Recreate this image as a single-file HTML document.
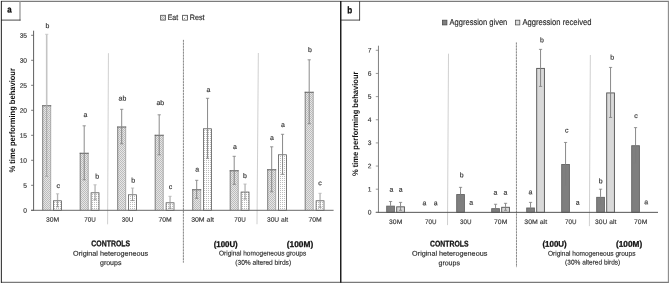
<!DOCTYPE html>
<html><head><meta charset="utf-8"><title>Figure</title>
<style>html,body{margin:0;padding:0;background:#fff;}svg{display:block;will-change:transform;}</style>
</head><body>
<svg width="669" height="284" viewBox="0 0 669 284" font-family="Liberation Sans, sans-serif" text-rendering="geometricPrecision">
<defs>
<pattern id="pe" width="2" height="2" patternUnits="userSpaceOnUse"><rect width="2" height="2" fill="#e6e6e6"/><rect width="1" height="1" fill="#bcbcbc"/><rect x="1" y="1" width="1" height="1" fill="#bcbcbc"/></pattern>
<pattern id="pr" width="2" height="2" patternUnits="userSpaceOnUse"><rect width="2" height="2" fill="#fefefe"/><rect x="0" y="0" width="1" height="1" fill="#bdbdbd"/></pattern>
</defs>
<line x1="1.00" y1="1.30" x2="669.00" y2="1.30" stroke="#5c5c5c" stroke-width="1.0" />
<line x1="1.00" y1="282.30" x2="669.00" y2="282.30" stroke="#585858" stroke-width="1.0" />
<line x1="1.35" y1="1.00" x2="1.35" y2="282.80" stroke="#151515" stroke-width="0.95" />
<line x1="668.40" y1="1.00" x2="668.40" y2="282.80" stroke="#8a8a8a" stroke-width="1.1" />
<line x1="340.75" y1="1.00" x2="340.75" y2="282.80" stroke="#1a1a1a" stroke-width="1.45" />
<line x1="20.00" y1="1.30" x2="20.00" y2="20.40" stroke="#999" stroke-width="1.3" />
<line x1="1.00" y1="20.10" x2="20.60" y2="20.10" stroke="#1e1e1e" stroke-width="0.8" />
<line x1="359.60" y1="1.30" x2="359.60" y2="20.40" stroke="#222" stroke-width="0.8" />
<line x1="340.00" y1="20.10" x2="360.00" y2="20.10" stroke="#222" stroke-width="0.8" />
<text x="9.50" y="12.50" font-size="9.1" text-anchor="middle" font-weight="bold" fill="#111" stroke="#111" stroke-width="0.28" textLength="4.40" lengthAdjust="spacingAndGlyphs" transform="rotate(0.04 9.50 12.50)" >a</text>
<text x="349.80" y="13.20" font-size="9.6" text-anchor="middle" font-weight="bold" fill="#111" stroke="#111" stroke-width="0.28" textLength="5.00" lengthAdjust="spacingAndGlyphs" transform="rotate(0.04 349.80 13.20)" >b</text>
<line x1="108.45" y1="53.20" x2="107.60" y2="224.30" stroke="#c8c8c8" stroke-width="0.85" />
<line x1="183.45" y1="39.90" x2="183.40" y2="262.60" stroke="#c4c4c4" stroke-width="0.8" />
<line x1="183.45" y1="39.90" x2="183.40" y2="262.60" stroke="#787878" stroke-width="0.8" stroke-dasharray="1.9 1.05"/>
<line x1="258.35" y1="53.00" x2="257.00" y2="224.20" stroke="#c8c8c8" stroke-width="0.85" />
<rect x="42.40" y="105.60" width="8.60" height="104.70" fill="url(#pe)" stroke="none" stroke-width="1" />
<line x1="50.70" y1="105.30" x2="50.70" y2="210.30" stroke="#a6a6a6" stroke-width="0.9" />
<line x1="42.70" y1="105.30" x2="42.70" y2="210.30" stroke="#787878" stroke-width="0.9" />
<line x1="42.20" y1="105.75" x2="51.20" y2="105.75" stroke="#565656" stroke-width="0.9" />
<line x1="46.70" y1="34.30" x2="46.70" y2="105.30" stroke="#c4c4c4" stroke-width="1.6" />
<line x1="46.70" y1="105.30" x2="46.70" y2="176.30" stroke="#a4a4a4" stroke-width="1.0" />
<line x1="45.10" y1="34.30" x2="48.30" y2="34.30" stroke="#c4c4c4" stroke-width="0.8" />
<line x1="45.10" y1="176.30" x2="48.30" y2="176.30" stroke="#a4a4a4" stroke-width="0.8" />
<rect x="53.60" y="200.80" width="7.90" height="9.50" fill="url(#pr)" stroke="#505050" stroke-width="0.75" />
<line x1="57.55" y1="193.80" x2="57.55" y2="200.30" stroke="#b4b4b4" stroke-width="1.3" />
<line x1="57.55" y1="200.30" x2="57.55" y2="206.80" stroke="#8a8a8a" stroke-width="0.9" />
<line x1="55.95" y1="193.80" x2="59.15" y2="193.80" stroke="#b4b4b4" stroke-width="0.8" />
<line x1="55.95" y1="206.80" x2="59.15" y2="206.80" stroke="#8a8a8a" stroke-width="0.8" />
<rect x="79.90" y="153.10" width="8.60" height="57.20" fill="url(#pe)" stroke="none" stroke-width="1" />
<line x1="88.20" y1="152.80" x2="88.20" y2="210.30" stroke="#a6a6a6" stroke-width="0.9" />
<line x1="80.20" y1="152.80" x2="80.20" y2="210.30" stroke="#787878" stroke-width="0.9" />
<line x1="79.70" y1="153.25" x2="88.70" y2="153.25" stroke="#565656" stroke-width="0.9" />
<line x1="84.20" y1="125.80" x2="84.20" y2="152.80" stroke="#7d7d7d" stroke-width="0.9" />
<line x1="84.20" y1="152.80" x2="84.20" y2="179.80" stroke="#7d7d7d" stroke-width="0.9" />
<line x1="82.60" y1="125.80" x2="85.80" y2="125.80" stroke="#7d7d7d" stroke-width="0.8" />
<line x1="82.60" y1="179.80" x2="85.80" y2="179.80" stroke="#7d7d7d" stroke-width="0.8" />
<rect x="91.10" y="192.80" width="7.90" height="17.50" fill="url(#pr)" stroke="#505050" stroke-width="0.75" />
<line x1="95.05" y1="184.80" x2="95.05" y2="192.30" stroke="#b4b4b4" stroke-width="1.3" />
<line x1="95.05" y1="192.30" x2="95.05" y2="199.80" stroke="#8a8a8a" stroke-width="0.9" />
<line x1="93.45" y1="184.80" x2="96.65" y2="184.80" stroke="#b4b4b4" stroke-width="0.8" />
<line x1="93.45" y1="199.80" x2="96.65" y2="199.80" stroke="#8a8a8a" stroke-width="0.8" />
<rect x="117.40" y="126.85" width="8.60" height="83.45" fill="url(#pe)" stroke="none" stroke-width="1" />
<line x1="125.70" y1="126.55" x2="125.70" y2="210.30" stroke="#a6a6a6" stroke-width="0.9" />
<line x1="117.70" y1="126.55" x2="117.70" y2="210.30" stroke="#787878" stroke-width="0.9" />
<line x1="117.20" y1="127.00" x2="126.20" y2="127.00" stroke="#565656" stroke-width="0.9" />
<line x1="121.70" y1="109.30" x2="121.70" y2="126.55" stroke="#7d7d7d" stroke-width="0.9" />
<line x1="121.70" y1="126.55" x2="121.70" y2="143.80" stroke="#7d7d7d" stroke-width="0.9" />
<line x1="120.10" y1="109.30" x2="123.30" y2="109.30" stroke="#7d7d7d" stroke-width="0.8" />
<line x1="120.10" y1="143.80" x2="123.30" y2="143.80" stroke="#7d7d7d" stroke-width="0.8" />
<rect x="128.60" y="194.80" width="7.90" height="15.50" fill="url(#pr)" stroke="#505050" stroke-width="0.75" />
<line x1="132.55" y1="188.05" x2="132.55" y2="194.30" stroke="#b4b4b4" stroke-width="1.3" />
<line x1="132.55" y1="194.30" x2="132.55" y2="200.55" stroke="#8a8a8a" stroke-width="0.9" />
<line x1="130.95" y1="188.05" x2="134.15" y2="188.05" stroke="#b4b4b4" stroke-width="0.8" />
<line x1="130.95" y1="200.55" x2="134.15" y2="200.55" stroke="#8a8a8a" stroke-width="0.8" />
<rect x="154.90" y="135.10" width="8.60" height="75.20" fill="url(#pe)" stroke="none" stroke-width="1" />
<line x1="163.20" y1="134.80" x2="163.20" y2="210.30" stroke="#a6a6a6" stroke-width="0.9" />
<line x1="155.20" y1="134.80" x2="155.20" y2="210.30" stroke="#787878" stroke-width="0.9" />
<line x1="154.70" y1="135.25" x2="163.70" y2="135.25" stroke="#565656" stroke-width="0.9" />
<line x1="159.20" y1="114.80" x2="159.20" y2="134.80" stroke="#7d7d7d" stroke-width="0.9" />
<line x1="159.20" y1="134.80" x2="159.20" y2="154.80" stroke="#7d7d7d" stroke-width="0.9" />
<line x1="157.60" y1="114.80" x2="160.80" y2="114.80" stroke="#7d7d7d" stroke-width="0.8" />
<line x1="157.60" y1="154.80" x2="160.80" y2="154.80" stroke="#7d7d7d" stroke-width="0.8" />
<rect x="166.10" y="202.80" width="7.90" height="7.50" fill="url(#pr)" stroke="#505050" stroke-width="0.75" />
<line x1="170.05" y1="196.30" x2="170.05" y2="202.30" stroke="#b4b4b4" stroke-width="1.3" />
<line x1="170.05" y1="202.30" x2="170.05" y2="208.30" stroke="#8a8a8a" stroke-width="0.9" />
<line x1="168.45" y1="196.30" x2="171.65" y2="196.30" stroke="#b4b4b4" stroke-width="0.8" />
<line x1="168.45" y1="208.30" x2="171.65" y2="208.30" stroke="#8a8a8a" stroke-width="0.8" />
<rect x="192.40" y="189.60" width="8.60" height="20.70" fill="url(#pe)" stroke="none" stroke-width="1" />
<line x1="200.70" y1="189.30" x2="200.70" y2="210.30" stroke="#a6a6a6" stroke-width="0.9" />
<line x1="192.70" y1="189.30" x2="192.70" y2="210.30" stroke="#787878" stroke-width="0.9" />
<line x1="192.20" y1="189.75" x2="201.20" y2="189.75" stroke="#565656" stroke-width="0.9" />
<line x1="196.70" y1="180.30" x2="196.70" y2="189.30" stroke="#7d7d7d" stroke-width="0.9" />
<line x1="196.70" y1="189.30" x2="196.70" y2="198.30" stroke="#7d7d7d" stroke-width="0.9" />
<line x1="195.10" y1="180.30" x2="198.30" y2="180.30" stroke="#7d7d7d" stroke-width="0.8" />
<line x1="195.10" y1="198.30" x2="198.30" y2="198.30" stroke="#7d7d7d" stroke-width="0.8" />
<rect x="203.60" y="128.80" width="7.90" height="81.50" fill="url(#pr)" stroke="#505050" stroke-width="0.75" />
<line x1="207.55" y1="98.30" x2="207.55" y2="128.30" stroke="#7d7d7d" stroke-width="0.9" />
<line x1="207.55" y1="128.30" x2="207.55" y2="158.30" stroke="#7d7d7d" stroke-width="0.9" />
<line x1="205.95" y1="98.30" x2="209.15" y2="98.30" stroke="#7d7d7d" stroke-width="0.8" />
<line x1="205.95" y1="158.30" x2="209.15" y2="158.30" stroke="#7d7d7d" stroke-width="0.8" />
<rect x="229.90" y="170.60" width="8.60" height="39.70" fill="url(#pe)" stroke="none" stroke-width="1" />
<line x1="238.20" y1="170.30" x2="238.20" y2="210.30" stroke="#a6a6a6" stroke-width="0.9" />
<line x1="230.20" y1="170.30" x2="230.20" y2="210.30" stroke="#787878" stroke-width="0.9" />
<line x1="229.70" y1="170.75" x2="238.70" y2="170.75" stroke="#565656" stroke-width="0.9" />
<line x1="234.20" y1="156.30" x2="234.20" y2="170.30" stroke="#7d7d7d" stroke-width="0.9" />
<line x1="234.20" y1="170.30" x2="234.20" y2="184.30" stroke="#7d7d7d" stroke-width="0.9" />
<line x1="232.60" y1="156.30" x2="235.80" y2="156.30" stroke="#7d7d7d" stroke-width="0.8" />
<line x1="232.60" y1="184.30" x2="235.80" y2="184.30" stroke="#7d7d7d" stroke-width="0.8" />
<rect x="241.10" y="192.05" width="7.90" height="18.25" fill="url(#pr)" stroke="#505050" stroke-width="0.75" />
<line x1="245.05" y1="184.05" x2="245.05" y2="191.55" stroke="#b4b4b4" stroke-width="1.3" />
<line x1="245.05" y1="191.55" x2="245.05" y2="199.05" stroke="#8a8a8a" stroke-width="0.9" />
<line x1="243.45" y1="184.05" x2="246.65" y2="184.05" stroke="#b4b4b4" stroke-width="0.8" />
<line x1="243.45" y1="199.05" x2="246.65" y2="199.05" stroke="#8a8a8a" stroke-width="0.8" />
<rect x="267.40" y="169.60" width="8.60" height="40.70" fill="url(#pe)" stroke="none" stroke-width="1" />
<line x1="275.70" y1="169.30" x2="275.70" y2="210.30" stroke="#a6a6a6" stroke-width="0.9" />
<line x1="267.70" y1="169.30" x2="267.70" y2="210.30" stroke="#787878" stroke-width="0.9" />
<line x1="267.20" y1="169.75" x2="276.20" y2="169.75" stroke="#565656" stroke-width="0.9" />
<line x1="271.70" y1="146.80" x2="271.70" y2="169.30" stroke="#7d7d7d" stroke-width="0.9" />
<line x1="271.70" y1="169.30" x2="271.70" y2="191.80" stroke="#7d7d7d" stroke-width="0.9" />
<line x1="270.10" y1="146.80" x2="273.30" y2="146.80" stroke="#7d7d7d" stroke-width="0.8" />
<line x1="270.10" y1="191.80" x2="273.30" y2="191.80" stroke="#7d7d7d" stroke-width="0.8" />
<rect x="278.60" y="154.80" width="7.90" height="55.50" fill="url(#pr)" stroke="#505050" stroke-width="0.75" />
<line x1="282.55" y1="134.30" x2="282.55" y2="154.30" stroke="#7d7d7d" stroke-width="0.9" />
<line x1="282.55" y1="154.30" x2="282.55" y2="174.30" stroke="#7d7d7d" stroke-width="0.9" />
<line x1="280.95" y1="134.30" x2="284.15" y2="134.30" stroke="#7d7d7d" stroke-width="0.8" />
<line x1="280.95" y1="174.30" x2="284.15" y2="174.30" stroke="#7d7d7d" stroke-width="0.8" />
<rect x="304.90" y="92.10" width="8.60" height="118.20" fill="url(#pe)" stroke="none" stroke-width="1" />
<line x1="313.20" y1="91.80" x2="313.20" y2="210.30" stroke="#a6a6a6" stroke-width="0.9" />
<line x1="305.20" y1="91.80" x2="305.20" y2="210.30" stroke="#787878" stroke-width="0.9" />
<line x1="304.70" y1="92.25" x2="313.70" y2="92.25" stroke="#565656" stroke-width="0.9" />
<line x1="309.20" y1="59.80" x2="309.20" y2="91.80" stroke="#7d7d7d" stroke-width="0.9" />
<line x1="309.20" y1="91.80" x2="309.20" y2="123.80" stroke="#7d7d7d" stroke-width="0.9" />
<line x1="307.60" y1="59.80" x2="310.80" y2="59.80" stroke="#7d7d7d" stroke-width="0.8" />
<line x1="307.60" y1="123.80" x2="310.80" y2="123.80" stroke="#7d7d7d" stroke-width="0.8" />
<rect x="316.10" y="200.80" width="7.90" height="9.50" fill="url(#pr)" stroke="#505050" stroke-width="0.75" />
<line x1="320.05" y1="193.30" x2="320.05" y2="200.30" stroke="#b4b4b4" stroke-width="1.3" />
<line x1="320.05" y1="200.30" x2="320.05" y2="207.30" stroke="#8a8a8a" stroke-width="0.9" />
<line x1="318.45" y1="193.30" x2="321.65" y2="193.30" stroke="#b4b4b4" stroke-width="0.8" />
<line x1="318.45" y1="207.30" x2="321.65" y2="207.30" stroke="#8a8a8a" stroke-width="0.8" />
<line x1="33.60" y1="30.70" x2="33.60" y2="210.80" stroke="#5e5e5e" stroke-width="1.0" />
<line x1="31.10" y1="210.30" x2="333.60" y2="210.30" stroke="#6a6a6a" stroke-width="1.0" />
<line x1="31.10" y1="210.30" x2="33.60" y2="210.30" stroke="#5e5e5e" stroke-width="0.8" />
<text x="27.10" y="212.75" font-size="6.6" text-anchor="end" font-weight="normal" fill="#363636" stroke="#363636" stroke-width="0.15" textLength="3.72" lengthAdjust="spacingAndGlyphs" transform="rotate(0.04 27.10 212.75)" >0</text>
<line x1="31.10" y1="185.30" x2="33.60" y2="185.30" stroke="#5e5e5e" stroke-width="0.8" />
<text x="27.10" y="187.75" font-size="6.6" text-anchor="end" font-weight="normal" fill="#363636" stroke="#363636" stroke-width="0.15" textLength="3.72" lengthAdjust="spacingAndGlyphs" transform="rotate(0.04 27.10 187.75)" >5</text>
<line x1="31.10" y1="160.30" x2="33.60" y2="160.30" stroke="#5e5e5e" stroke-width="0.8" />
<text x="27.10" y="162.75" font-size="6.6" text-anchor="end" font-weight="normal" fill="#363636" stroke="#363636" stroke-width="0.15" textLength="7.44" lengthAdjust="spacingAndGlyphs" transform="rotate(0.04 27.10 162.75)" >10</text>
<line x1="31.10" y1="135.30" x2="33.60" y2="135.30" stroke="#5e5e5e" stroke-width="0.8" />
<text x="27.10" y="137.75" font-size="6.6" text-anchor="end" font-weight="normal" fill="#363636" stroke="#363636" stroke-width="0.15" textLength="7.44" lengthAdjust="spacingAndGlyphs" transform="rotate(0.04 27.10 137.75)" >15</text>
<line x1="31.10" y1="110.30" x2="33.60" y2="110.30" stroke="#5e5e5e" stroke-width="0.8" />
<text x="27.10" y="112.75" font-size="6.6" text-anchor="end" font-weight="normal" fill="#363636" stroke="#363636" stroke-width="0.15" textLength="7.44" lengthAdjust="spacingAndGlyphs" transform="rotate(0.04 27.10 112.75)" >20</text>
<line x1="31.10" y1="85.30" x2="33.60" y2="85.30" stroke="#5e5e5e" stroke-width="0.8" />
<text x="27.10" y="87.75" font-size="6.6" text-anchor="end" font-weight="normal" fill="#363636" stroke="#363636" stroke-width="0.15" textLength="7.44" lengthAdjust="spacingAndGlyphs" transform="rotate(0.04 27.10 87.75)" >25</text>
<line x1="31.10" y1="60.30" x2="33.60" y2="60.30" stroke="#5e5e5e" stroke-width="0.8" />
<text x="27.10" y="62.75" font-size="6.6" text-anchor="end" font-weight="normal" fill="#363636" stroke="#363636" stroke-width="0.15" textLength="7.44" lengthAdjust="spacingAndGlyphs" transform="rotate(0.04 27.10 62.75)" >30</text>
<line x1="31.10" y1="35.30" x2="33.60" y2="35.30" stroke="#5e5e5e" stroke-width="0.8" />
<text x="27.10" y="37.75" font-size="6.6" text-anchor="end" font-weight="normal" fill="#363636" stroke="#363636" stroke-width="0.15" textLength="7.44" lengthAdjust="spacingAndGlyphs" transform="rotate(0.04 27.10 37.75)" >35</text>
<text x="52.55" y="221.70" font-size="6.6" text-anchor="middle" font-weight="normal" fill="#363636" stroke="#363636" stroke-width="0.15" textLength="13.20" lengthAdjust="spacingAndGlyphs" transform="rotate(0.04 52.55 221.70)" >30M</text>
<text x="90.05" y="221.70" font-size="6.6" text-anchor="middle" font-weight="normal" fill="#363636" stroke="#363636" stroke-width="0.15" textLength="11.50" lengthAdjust="spacingAndGlyphs" transform="rotate(0.04 90.05 221.70)" >70U</text>
<text x="127.55" y="221.70" font-size="6.6" text-anchor="middle" font-weight="normal" fill="#363636" stroke="#363636" stroke-width="0.15" textLength="11.50" lengthAdjust="spacingAndGlyphs" transform="rotate(0.04 127.55 221.70)" >30U</text>
<text x="165.05" y="221.70" font-size="6.6" text-anchor="middle" font-weight="normal" fill="#363636" stroke="#363636" stroke-width="0.15" textLength="13.20" lengthAdjust="spacingAndGlyphs" transform="rotate(0.04 165.05 221.70)" >70M</text>
<text x="202.55" y="221.70" font-size="6.6" text-anchor="middle" font-weight="normal" fill="#363636" stroke="#363636" stroke-width="0.15" textLength="22.80" lengthAdjust="spacingAndGlyphs" transform="rotate(0.04 202.55 221.70)" >30M alt</text>
<text x="240.05" y="221.70" font-size="6.6" text-anchor="middle" font-weight="normal" fill="#363636" stroke="#363636" stroke-width="0.15" textLength="11.50" lengthAdjust="spacingAndGlyphs" transform="rotate(0.04 240.05 221.70)" >70U</text>
<text x="277.55" y="221.70" font-size="6.6" text-anchor="middle" font-weight="normal" fill="#363636" stroke="#363636" stroke-width="0.15" textLength="21.20" lengthAdjust="spacingAndGlyphs" transform="rotate(0.04 277.55 221.70)" >30U alt</text>
<text x="315.05" y="221.70" font-size="6.6" text-anchor="middle" font-weight="normal" fill="#363636" stroke="#363636" stroke-width="0.15" textLength="13.20" lengthAdjust="spacingAndGlyphs" transform="rotate(0.04 315.05 221.70)" >70M</text>
<text transform="translate(14.90,120.30) rotate(-90)" font-size="8.1" font-weight="bold" text-anchor="middle" fill="#111" textLength="104.4" lengthAdjust="spacingAndGlyphs">% time performing behaviour</text>
<text x="47.30" y="28.10" font-size="6.9" text-anchor="middle" font-weight="normal" fill="#2c2c2c" stroke="#2c2c2c" stroke-width="0.15" transform="rotate(0.04 47.30 28.10)" >b</text>
<text x="58.30" y="188.10" font-size="6.9" text-anchor="middle" font-weight="normal" fill="#2c2c2c" stroke="#2c2c2c" stroke-width="0.15" transform="rotate(0.04 58.30 188.10)" >c</text>
<text x="85.40" y="117.10" font-size="6.9" text-anchor="middle" font-weight="normal" fill="#2c2c2c" stroke="#2c2c2c" stroke-width="0.15" transform="rotate(0.04 85.40 117.10)" >a</text>
<text x="97.20" y="178.60" font-size="6.9" text-anchor="middle" font-weight="normal" fill="#2c2c2c" stroke="#2c2c2c" stroke-width="0.15" transform="rotate(0.04 97.20 178.60)" >b</text>
<text x="122.40" y="100.60" font-size="6.9" text-anchor="middle" font-weight="normal" fill="#2c2c2c" stroke="#2c2c2c" stroke-width="0.15" transform="rotate(0.04 122.40 100.60)" >ab</text>
<text x="133.20" y="182.40" font-size="6.9" text-anchor="middle" font-weight="normal" fill="#2c2c2c" stroke="#2c2c2c" stroke-width="0.15" transform="rotate(0.04 133.20 182.40)" >b</text>
<text x="160.30" y="105.10" font-size="6.9" text-anchor="middle" font-weight="normal" fill="#2c2c2c" stroke="#2c2c2c" stroke-width="0.15" transform="rotate(0.04 160.30 105.10)" >ab</text>
<text x="170.50" y="189.00" font-size="6.9" text-anchor="middle" font-weight="normal" fill="#2c2c2c" stroke="#2c2c2c" stroke-width="0.15" transform="rotate(0.04 170.50 189.00)" >c</text>
<text x="197.10" y="171.60" font-size="6.9" text-anchor="middle" font-weight="normal" fill="#2c2c2c" stroke="#2c2c2c" stroke-width="0.15" transform="rotate(0.04 197.10 171.60)" >a</text>
<text x="208.50" y="91.90" font-size="6.9" text-anchor="middle" font-weight="normal" fill="#2c2c2c" stroke="#2c2c2c" stroke-width="0.15" transform="rotate(0.04 208.50 91.90)" >a</text>
<text x="234.80" y="149.00" font-size="6.9" text-anchor="middle" font-weight="normal" fill="#2c2c2c" stroke="#2c2c2c" stroke-width="0.15" transform="rotate(0.04 234.80 149.00)" >a</text>
<text x="244.90" y="177.90" font-size="6.9" text-anchor="middle" font-weight="normal" fill="#2c2c2c" stroke="#2c2c2c" stroke-width="0.15" transform="rotate(0.04 244.90 177.90)" >b</text>
<text x="271.80" y="140.00" font-size="6.9" text-anchor="middle" font-weight="normal" fill="#2c2c2c" stroke="#2c2c2c" stroke-width="0.15" transform="rotate(0.04 271.80 140.00)" >a</text>
<text x="283.00" y="127.00" font-size="6.9" text-anchor="middle" font-weight="normal" fill="#2c2c2c" stroke="#2c2c2c" stroke-width="0.15" transform="rotate(0.04 283.00 127.00)" >a</text>
<text x="310.00" y="52.00" font-size="6.9" text-anchor="middle" font-weight="normal" fill="#2c2c2c" stroke="#2c2c2c" stroke-width="0.15" transform="rotate(0.04 310.00 52.00)" >b</text>
<text x="320.00" y="185.20" font-size="6.9" text-anchor="middle" font-weight="normal" fill="#2c2c2c" stroke="#2c2c2c" stroke-width="0.15" transform="rotate(0.04 320.00 185.20)" >c</text>
<rect x="160.60" y="15.30" width="4.80" height="4.80" fill="url(#pe)" stroke="#555" stroke-width="0.8" />
<text x="167.70" y="20.00" font-size="7.9" text-anchor="start" font-weight="normal" fill="#262626" stroke="#262626" stroke-width="0.15" textLength="10.40" lengthAdjust="spacingAndGlyphs" transform="rotate(0.04 167.70 20.00)" >Eat</text>
<rect x="182.60" y="15.30" width="4.80" height="4.80" fill="#fff" stroke="#444" stroke-width="0.8" />
<rect x="184.00" y="18.00" width="0.90" height="0.90" fill="#777" stroke="none" stroke-width="1" />
<rect x="185.60" y="16.60" width="0.90" height="0.90" fill="#999" stroke="none" stroke-width="1" />
<text x="189.80" y="20.00" font-size="7.9" text-anchor="start" font-weight="normal" fill="#262626" stroke="#262626" stroke-width="0.15" textLength="14.80" lengthAdjust="spacingAndGlyphs" transform="rotate(0.04 189.80 20.00)" >Rest</text>
<text x="110.70" y="246.20" font-size="8.3" text-anchor="middle" font-weight="bold" fill="#111" stroke="#111" stroke-width="0.28" textLength="38.80" lengthAdjust="spacingAndGlyphs" transform="rotate(0.04 110.70 246.20)" >CONTROLS</text>
<text x="110.60" y="255.70" font-size="6.9" text-anchor="middle" font-weight="normal" fill="#2a2a2a" stroke="#2a2a2a" stroke-width="0.15" textLength="75.20" lengthAdjust="spacingAndGlyphs" transform="rotate(0.04 110.60 255.70)" >Original heterogeneous</text>
<text x="110.70" y="265.10" font-size="6.9" text-anchor="middle" font-weight="normal" fill="#2a2a2a" stroke="#2a2a2a" stroke-width="0.15" textLength="21.40" lengthAdjust="spacingAndGlyphs" transform="rotate(0.04 110.70 265.10)" >groups</text>
<text x="225.70" y="247.00" font-size="8.3" text-anchor="middle" font-weight="bold" fill="#111" stroke="#111" stroke-width="0.28" textLength="24.10" lengthAdjust="spacingAndGlyphs" transform="rotate(0.04 225.70 247.00)" >(100U)</text>
<text x="300.00" y="247.00" font-size="8.3" text-anchor="middle" font-weight="bold" fill="#111" stroke="#111" stroke-width="0.28" textLength="26.40" lengthAdjust="spacingAndGlyphs" transform="rotate(0.04 300.00 247.00)" >(100M)</text>
<text x="262.60" y="255.60" font-size="6.9" text-anchor="middle" font-weight="normal" fill="#2a2a2a" stroke="#2a2a2a" stroke-width="0.15" textLength="87.20" lengthAdjust="spacingAndGlyphs" transform="rotate(0.04 262.60 255.60)" >Original homogeneous groups</text>
<text x="263.20" y="264.70" font-size="6.9" text-anchor="middle" font-weight="normal" fill="#2a2a2a" stroke="#2a2a2a" stroke-width="0.15" textLength="55.80" lengthAdjust="spacingAndGlyphs" transform="rotate(0.04 263.20 264.70)" >(30% altered birds)</text>
<line x1="448.50" y1="53.70" x2="447.50" y2="225.10" stroke="#c8c8c8" stroke-width="0.85" />
<line x1="516.40" y1="42.50" x2="516.50" y2="267.10" stroke="#c4c4c4" stroke-width="0.8" />
<line x1="516.40" y1="42.50" x2="516.50" y2="267.10" stroke="#787878" stroke-width="0.8" stroke-dasharray="1.9 1.05"/>
<line x1="590.35" y1="55.00" x2="589.40" y2="226.10" stroke="#c8c8c8" stroke-width="0.85" />
<rect x="386.70" y="206.14" width="7.70" height="6.21" fill="#7f7f7f" stroke="#636363" stroke-width="0.9" />
<line x1="390.55" y1="201.47" x2="390.55" y2="205.64" stroke="#7d7d7d" stroke-width="0.9" />
<line x1="390.55" y1="205.64" x2="390.55" y2="209.80" stroke="#7d7d7d" stroke-width="0.9" />
<line x1="388.95" y1="201.47" x2="392.15" y2="201.47" stroke="#7d7d7d" stroke-width="0.8" />
<line x1="388.95" y1="209.80" x2="392.15" y2="209.80" stroke="#7d7d7d" stroke-width="0.8" />
<rect x="396.70" y="206.83" width="7.70" height="5.52" fill="#d9d9d9" stroke="#505050" stroke-width="0.9" />
<line x1="400.55" y1="202.40" x2="400.55" y2="206.33" stroke="#7d7d7d" stroke-width="0.9" />
<line x1="400.55" y1="206.33" x2="400.55" y2="210.27" stroke="#7d7d7d" stroke-width="0.9" />
<line x1="398.95" y1="202.40" x2="402.15" y2="202.40" stroke="#7d7d7d" stroke-width="0.8" />
<line x1="398.95" y1="210.27" x2="402.15" y2="210.27" stroke="#7d7d7d" stroke-width="0.8" />
<rect x="456.70" y="194.56" width="7.70" height="17.79" fill="#7f7f7f" stroke="#636363" stroke-width="0.9" />
<line x1="460.55" y1="187.35" x2="460.55" y2="194.06" stroke="#7d7d7d" stroke-width="0.9" />
<line x1="460.55" y1="194.06" x2="460.55" y2="200.78" stroke="#7d7d7d" stroke-width="0.9" />
<line x1="458.95" y1="187.35" x2="462.15" y2="187.35" stroke="#7d7d7d" stroke-width="0.8" />
<line x1="458.95" y1="200.78" x2="462.15" y2="200.78" stroke="#7d7d7d" stroke-width="0.8" />
<rect x="491.70" y="208.68" width="7.70" height="3.67" fill="#7f7f7f" stroke="#636363" stroke-width="0.9" />
<line x1="495.55" y1="204.25" x2="495.55" y2="208.18" stroke="#7d7d7d" stroke-width="0.9" />
<line x1="495.55" y1="208.18" x2="495.55" y2="212.12" stroke="#7d7d7d" stroke-width="0.9" />
<line x1="493.95" y1="204.25" x2="497.15" y2="204.25" stroke="#7d7d7d" stroke-width="0.8" />
<line x1="493.95" y1="212.12" x2="497.15" y2="212.12" stroke="#7d7d7d" stroke-width="0.8" />
<rect x="501.70" y="207.29" width="7.70" height="5.06" fill="#d9d9d9" stroke="#505050" stroke-width="0.9" />
<line x1="505.55" y1="203.32" x2="505.55" y2="206.79" stroke="#7d7d7d" stroke-width="0.9" />
<line x1="505.55" y1="206.79" x2="505.55" y2="210.27" stroke="#7d7d7d" stroke-width="0.9" />
<line x1="503.95" y1="203.32" x2="507.15" y2="203.32" stroke="#7d7d7d" stroke-width="0.8" />
<line x1="503.95" y1="210.27" x2="507.15" y2="210.27" stroke="#7d7d7d" stroke-width="0.8" />
<rect x="526.70" y="207.99" width="7.70" height="4.36" fill="#7f7f7f" stroke="#636363" stroke-width="0.9" />
<line x1="530.55" y1="202.40" x2="530.55" y2="207.49" stroke="#7d7d7d" stroke-width="0.9" />
<line x1="530.55" y1="207.49" x2="530.55" y2="212.58" stroke="#7d7d7d" stroke-width="0.9" />
<line x1="528.95" y1="202.40" x2="532.15" y2="202.40" stroke="#7d7d7d" stroke-width="0.8" />
<line x1="528.95" y1="212.58" x2="532.15" y2="212.58" stroke="#7d7d7d" stroke-width="0.8" />
<rect x="536.70" y="68.39" width="7.70" height="143.96" fill="#d9d9d9" stroke="#505050" stroke-width="0.9" />
<line x1="540.55" y1="49.37" x2="540.55" y2="67.89" stroke="#7d7d7d" stroke-width="0.9" />
<line x1="540.55" y1="67.89" x2="540.55" y2="86.41" stroke="#7d7d7d" stroke-width="0.9" />
<line x1="538.95" y1="49.37" x2="542.15" y2="49.37" stroke="#7d7d7d" stroke-width="0.8" />
<line x1="538.95" y1="86.41" x2="542.15" y2="86.41" stroke="#7d7d7d" stroke-width="0.8" />
<rect x="561.70" y="164.47" width="7.70" height="47.88" fill="#7f7f7f" stroke="#636363" stroke-width="0.9" />
<line x1="565.55" y1="142.44" x2="565.55" y2="163.97" stroke="#7d7d7d" stroke-width="0.9" />
<line x1="565.55" y1="163.97" x2="565.55" y2="185.50" stroke="#7d7d7d" stroke-width="0.9" />
<line x1="563.95" y1="142.44" x2="567.15" y2="142.44" stroke="#7d7d7d" stroke-width="0.8" />
<line x1="563.95" y1="185.50" x2="567.15" y2="185.50" stroke="#7d7d7d" stroke-width="0.8" />
<rect x="596.70" y="197.34" width="7.70" height="15.01" fill="#7f7f7f" stroke="#636363" stroke-width="0.9" />
<line x1="600.55" y1="189.20" x2="600.55" y2="196.84" stroke="#7d7d7d" stroke-width="0.9" />
<line x1="600.55" y1="196.84" x2="600.55" y2="204.48" stroke="#7d7d7d" stroke-width="0.9" />
<line x1="598.95" y1="189.20" x2="602.15" y2="189.20" stroke="#7d7d7d" stroke-width="0.8" />
<line x1="598.95" y1="204.48" x2="602.15" y2="204.48" stroke="#7d7d7d" stroke-width="0.8" />
<rect x="606.70" y="92.93" width="7.70" height="119.42" fill="#d9d9d9" stroke="#505050" stroke-width="0.9" />
<line x1="610.55" y1="67.43" x2="610.55" y2="92.43" stroke="#7d7d7d" stroke-width="0.9" />
<line x1="610.55" y1="92.43" x2="610.55" y2="117.44" stroke="#7d7d7d" stroke-width="0.9" />
<line x1="608.95" y1="67.43" x2="612.15" y2="67.43" stroke="#7d7d7d" stroke-width="0.8" />
<line x1="608.95" y1="117.44" x2="612.15" y2="117.44" stroke="#7d7d7d" stroke-width="0.8" />
<rect x="631.70" y="145.72" width="7.70" height="66.63" fill="#7f7f7f" stroke="#636363" stroke-width="0.9" />
<line x1="635.55" y1="127.62" x2="635.55" y2="145.22" stroke="#7d7d7d" stroke-width="0.9" />
<line x1="635.55" y1="145.22" x2="635.55" y2="162.81" stroke="#7d7d7d" stroke-width="0.9" />
<line x1="633.95" y1="127.62" x2="637.15" y2="127.62" stroke="#7d7d7d" stroke-width="0.8" />
<line x1="633.95" y1="162.81" x2="637.15" y2="162.81" stroke="#7d7d7d" stroke-width="0.8" />
<line x1="378.45" y1="45.70" x2="378.45" y2="212.85" stroke="#808080" stroke-width="1.0" />
<line x1="375.80" y1="212.35" x2="658.00" y2="212.35" stroke="#555" stroke-width="1.0" />
<line x1="375.80" y1="212.35" x2="378.45" y2="212.35" stroke="#808080" stroke-width="0.8" />
<text x="371.60" y="214.55" font-size="6.6" text-anchor="end" font-weight="normal" fill="#363636" stroke="#363636" stroke-width="0.15" textLength="3.72" lengthAdjust="spacingAndGlyphs" transform="rotate(0.04 371.60 214.55)" >0</text>
<line x1="375.80" y1="189.20" x2="378.45" y2="189.20" stroke="#808080" stroke-width="0.8" />
<text x="371.60" y="191.40" font-size="6.6" text-anchor="end" font-weight="normal" fill="#363636" stroke="#363636" stroke-width="0.15" textLength="3.72" lengthAdjust="spacingAndGlyphs" transform="rotate(0.04 371.60 191.40)" >1</text>
<line x1="375.80" y1="166.05" x2="378.45" y2="166.05" stroke="#808080" stroke-width="0.8" />
<text x="371.60" y="168.25" font-size="6.6" text-anchor="end" font-weight="normal" fill="#363636" stroke="#363636" stroke-width="0.15" textLength="3.72" lengthAdjust="spacingAndGlyphs" transform="rotate(0.04 371.60 168.25)" >2</text>
<line x1="375.80" y1="142.90" x2="378.45" y2="142.90" stroke="#808080" stroke-width="0.8" />
<text x="371.60" y="145.10" font-size="6.6" text-anchor="end" font-weight="normal" fill="#363636" stroke="#363636" stroke-width="0.15" textLength="3.72" lengthAdjust="spacingAndGlyphs" transform="rotate(0.04 371.60 145.10)" >3</text>
<line x1="375.80" y1="119.75" x2="378.45" y2="119.75" stroke="#808080" stroke-width="0.8" />
<text x="371.60" y="121.95" font-size="6.6" text-anchor="end" font-weight="normal" fill="#363636" stroke="#363636" stroke-width="0.15" textLength="3.72" lengthAdjust="spacingAndGlyphs" transform="rotate(0.04 371.60 121.95)" >4</text>
<line x1="375.80" y1="96.60" x2="378.45" y2="96.60" stroke="#808080" stroke-width="0.8" />
<text x="371.60" y="98.80" font-size="6.6" text-anchor="end" font-weight="normal" fill="#363636" stroke="#363636" stroke-width="0.15" textLength="3.72" lengthAdjust="spacingAndGlyphs" transform="rotate(0.04 371.60 98.80)" >5</text>
<line x1="375.80" y1="73.45" x2="378.45" y2="73.45" stroke="#808080" stroke-width="0.8" />
<text x="371.60" y="75.65" font-size="6.6" text-anchor="end" font-weight="normal" fill="#363636" stroke="#363636" stroke-width="0.15" textLength="3.72" lengthAdjust="spacingAndGlyphs" transform="rotate(0.04 371.60 75.65)" >6</text>
<line x1="375.80" y1="50.30" x2="378.45" y2="50.30" stroke="#808080" stroke-width="0.8" />
<text x="371.60" y="52.50" font-size="6.6" text-anchor="end" font-weight="normal" fill="#363636" stroke="#363636" stroke-width="0.15" textLength="3.72" lengthAdjust="spacingAndGlyphs" transform="rotate(0.04 371.60 52.50)" >7</text>
<text x="395.70" y="223.90" font-size="6.6" text-anchor="middle" font-weight="normal" fill="#363636" stroke="#363636" stroke-width="0.15" textLength="13.20" lengthAdjust="spacingAndGlyphs" transform="rotate(0.04 395.70 223.90)" >30M</text>
<text x="430.70" y="223.90" font-size="6.6" text-anchor="middle" font-weight="normal" fill="#363636" stroke="#363636" stroke-width="0.15" textLength="11.50" lengthAdjust="spacingAndGlyphs" transform="rotate(0.04 430.70 223.90)" >70U</text>
<text x="465.70" y="223.90" font-size="6.6" text-anchor="middle" font-weight="normal" fill="#363636" stroke="#363636" stroke-width="0.15" textLength="11.50" lengthAdjust="spacingAndGlyphs" transform="rotate(0.04 465.70 223.90)" >30U</text>
<text x="500.70" y="223.90" font-size="6.6" text-anchor="middle" font-weight="normal" fill="#363636" stroke="#363636" stroke-width="0.15" textLength="13.20" lengthAdjust="spacingAndGlyphs" transform="rotate(0.04 500.70 223.90)" >70M</text>
<text x="535.70" y="223.90" font-size="6.6" text-anchor="middle" font-weight="normal" fill="#363636" stroke="#363636" stroke-width="0.15" textLength="22.80" lengthAdjust="spacingAndGlyphs" transform="rotate(0.04 535.70 223.90)" >30M alt</text>
<text x="570.70" y="223.90" font-size="6.6" text-anchor="middle" font-weight="normal" fill="#363636" stroke="#363636" stroke-width="0.15" textLength="11.50" lengthAdjust="spacingAndGlyphs" transform="rotate(0.04 570.70 223.90)" >70U</text>
<text x="605.70" y="223.90" font-size="6.6" text-anchor="middle" font-weight="normal" fill="#363636" stroke="#363636" stroke-width="0.15" textLength="21.20" lengthAdjust="spacingAndGlyphs" transform="rotate(0.04 605.70 223.90)" >30U alt</text>
<text x="640.70" y="223.90" font-size="6.6" text-anchor="middle" font-weight="normal" fill="#363636" stroke="#363636" stroke-width="0.15" textLength="13.20" lengthAdjust="spacingAndGlyphs" transform="rotate(0.04 640.70 223.90)" >70M</text>
<text transform="translate(358.00,123.80) rotate(-90)" font-size="8.1" font-weight="bold" text-anchor="middle" fill="#111" textLength="104.6" lengthAdjust="spacingAndGlyphs">% time performing behaviour</text>
<text x="391.50" y="191.70" font-size="6.9" text-anchor="middle" font-weight="normal" fill="#2c2c2c" stroke="#2c2c2c" stroke-width="0.15" transform="rotate(0.04 391.50 191.70)" >a</text>
<text x="400.60" y="191.70" font-size="6.9" text-anchor="middle" font-weight="normal" fill="#2c2c2c" stroke="#2c2c2c" stroke-width="0.15" transform="rotate(0.04 400.60 191.70)" >a</text>
<text x="424.40" y="205.30" font-size="6.9" text-anchor="middle" font-weight="normal" fill="#2c2c2c" stroke="#2c2c2c" stroke-width="0.15" transform="rotate(0.04 424.40 205.30)" >a</text>
<text x="435.70" y="205.30" font-size="6.9" text-anchor="middle" font-weight="normal" fill="#2c2c2c" stroke="#2c2c2c" stroke-width="0.15" transform="rotate(0.04 435.70 205.30)" >a</text>
<text x="461.60" y="177.20" font-size="6.9" text-anchor="middle" font-weight="normal" fill="#2c2c2c" stroke="#2c2c2c" stroke-width="0.15" transform="rotate(0.04 461.60 177.20)" >b</text>
<text x="471.20" y="204.80" font-size="6.9" text-anchor="middle" font-weight="normal" fill="#2c2c2c" stroke="#2c2c2c" stroke-width="0.15" transform="rotate(0.04 471.20 204.80)" >a</text>
<text x="495.30" y="194.80" font-size="6.9" text-anchor="middle" font-weight="normal" fill="#2c2c2c" stroke="#2c2c2c" stroke-width="0.15" transform="rotate(0.04 495.30 194.80)" >a</text>
<text x="505.30" y="194.80" font-size="6.9" text-anchor="middle" font-weight="normal" fill="#2c2c2c" stroke="#2c2c2c" stroke-width="0.15" transform="rotate(0.04 505.30 194.80)" >a</text>
<text x="530.40" y="194.30" font-size="6.9" text-anchor="middle" font-weight="normal" fill="#2c2c2c" stroke="#2c2c2c" stroke-width="0.15" transform="rotate(0.04 530.40 194.30)" >a</text>
<text x="541.90" y="42.20" font-size="6.9" text-anchor="middle" font-weight="normal" fill="#2c2c2c" stroke="#2c2c2c" stroke-width="0.15" transform="rotate(0.04 541.90 42.20)" >b</text>
<text x="566.80" y="132.60" font-size="6.9" text-anchor="middle" font-weight="normal" fill="#2c2c2c" stroke="#2c2c2c" stroke-width="0.15" transform="rotate(0.04 566.80 132.60)" >c</text>
<text x="577.60" y="204.80" font-size="6.9" text-anchor="middle" font-weight="normal" fill="#2c2c2c" stroke="#2c2c2c" stroke-width="0.15" transform="rotate(0.04 577.60 204.80)" >a</text>
<text x="600.60" y="183.30" font-size="6.9" text-anchor="middle" font-weight="normal" fill="#2c2c2c" stroke="#2c2c2c" stroke-width="0.15" transform="rotate(0.04 600.60 183.30)" >b</text>
<text x="612.10" y="59.50" font-size="6.9" text-anchor="middle" font-weight="normal" fill="#2c2c2c" stroke="#2c2c2c" stroke-width="0.15" transform="rotate(0.04 612.10 59.50)" >b</text>
<text x="636.00" y="118.00" font-size="6.9" text-anchor="middle" font-weight="normal" fill="#2c2c2c" stroke="#2c2c2c" stroke-width="0.15" transform="rotate(0.04 636.00 118.00)" >c</text>
<text x="646.20" y="204.30" font-size="6.9" text-anchor="middle" font-weight="normal" fill="#2c2c2c" stroke="#2c2c2c" stroke-width="0.15" transform="rotate(0.04 646.20 204.30)" >a</text>
<rect x="442.50" y="20.20" width="4.40" height="4.70" fill="#7f7f7f" stroke="#4a4a4a" stroke-width="0.8" />
<text x="449.60" y="24.90" font-size="8.7" text-anchor="start" font-weight="normal" fill="#262626" stroke="#262626" stroke-width="0.15" textLength="57.70" lengthAdjust="spacingAndGlyphs" transform="rotate(0.04 449.60 24.90)" >Aggression given</text>
<rect x="515.40" y="20.20" width="4.40" height="4.70" fill="#dcdcdc" stroke="#555" stroke-width="0.8" />
<text x="522.40" y="24.90" font-size="8.7" text-anchor="start" font-weight="normal" fill="#262626" stroke="#262626" stroke-width="0.15" textLength="69.10" lengthAdjust="spacingAndGlyphs" transform="rotate(0.04 522.40 24.90)" >Aggression received</text>
<text x="449.30" y="246.40" font-size="8.3" text-anchor="middle" font-weight="bold" fill="#111" stroke="#111" stroke-width="0.28" textLength="38.40" lengthAdjust="spacingAndGlyphs" transform="rotate(0.04 449.30 246.40)" >CONTROLS</text>
<text x="449.70" y="255.80" font-size="6.9" text-anchor="middle" font-weight="normal" fill="#2a2a2a" stroke="#2a2a2a" stroke-width="0.15" textLength="75.20" lengthAdjust="spacingAndGlyphs" transform="rotate(0.04 449.70 255.80)" >Original heterogeneous</text>
<text x="449.20" y="265.20" font-size="6.9" text-anchor="middle" font-weight="normal" fill="#2a2a2a" stroke="#2a2a2a" stroke-width="0.15" textLength="21.40" lengthAdjust="spacingAndGlyphs" transform="rotate(0.04 449.20 265.20)" >groups</text>
<text x="554.60" y="246.80" font-size="8.3" text-anchor="middle" font-weight="bold" fill="#111" stroke="#111" stroke-width="0.28" textLength="24.30" lengthAdjust="spacingAndGlyphs" transform="rotate(0.04 554.60 246.80)" >(100U)</text>
<text x="629.10" y="246.80" font-size="8.3" text-anchor="middle" font-weight="bold" fill="#111" stroke="#111" stroke-width="0.28" textLength="26.10" lengthAdjust="spacingAndGlyphs" transform="rotate(0.04 629.10 246.80)" >(100M)</text>
<text x="591.70" y="255.70" font-size="6.9" text-anchor="middle" font-weight="normal" fill="#2a2a2a" stroke="#2a2a2a" stroke-width="0.15" textLength="87.40" lengthAdjust="spacingAndGlyphs" transform="rotate(0.04 591.70 255.70)" >Original homogeneous groups</text>
<text x="592.70" y="264.50" font-size="6.9" text-anchor="middle" font-weight="normal" fill="#2a2a2a" stroke="#2a2a2a" stroke-width="0.15" textLength="55.20" lengthAdjust="spacingAndGlyphs" transform="rotate(0.04 592.70 264.50)" >(30% altered birds)</text>
</svg>
</body></html>
